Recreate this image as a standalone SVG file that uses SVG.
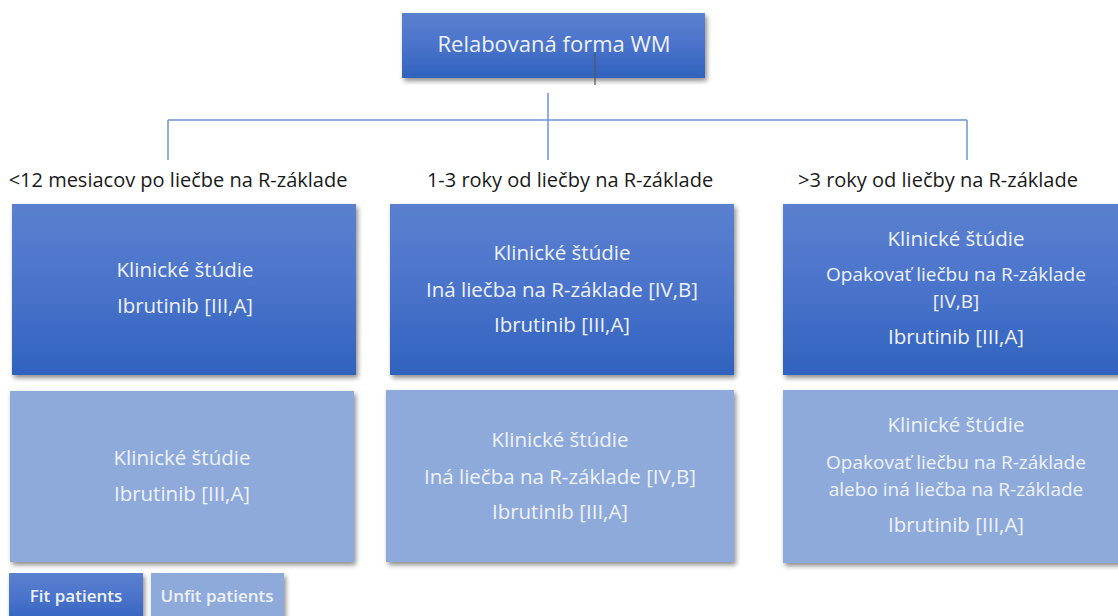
<svg xmlns="http://www.w3.org/2000/svg" width="1118" height="616" viewBox="0 0 1118 616">
  <defs>
    <linearGradient id="gDark" x1="0" y1="0" x2="0" y2="1">
      <stop offset="0" stop-color="#5b80cf"/>
      <stop offset="0.5" stop-color="#4a73cb"/>
      <stop offset="1" stop-color="#3062bd"/>
    </linearGradient>
    <filter id="shadow" x="-5%" y="-5%" width="112%" height="115%">
      <feGaussianBlur in="SourceAlpha" stdDeviation="2.5"/>
      <feOffset dx="2" dy="3" result="b"/>
      <feComponentTransfer><feFuncA type="linear" slope="0.45"/></feComponentTransfer>
      <feMerge><feMergeNode/><feMergeNode in="SourceGraphic"/></feMerge>
    </filter>
    <style>
      .dark { fill: url(#gDark); filter: url(#shadow); }
      .light { fill: #8eaadb; filter: url(#shadow); }
      .t { font-family: "Open Sans", "Liberation Sans", sans-serif; font-size: 20.5px; fill: #eef2fa; text-anchor: middle; }
      .w { font-size: 19px; }
      .lbl { font-family: "Open Sans", "Liberation Sans", sans-serif; font-size: 20px; fill: #1a1a1a; text-anchor: middle; }
      .leg { font-family: "Open Sans", "Liberation Sans", sans-serif; font-size: 17px; font-weight: 600; fill: #eef2fa; text-anchor: middle; }
      .conn { stroke: #6f93d6; stroke-width: 1.5; fill: none; }
    </style>
  </defs>
  <rect width="1118" height="616" fill="#ffffff"/>

  <!-- connectors -->
  <g id="connectors">
    <path class="conn" d="M548 93 V120 M168 120 H967 M168 120 V160 M548 120 V160 M967 120 V160"/>
  </g>

  <g id="root">
    <rect class="dark" x="402" y="13" width="303" height="65"/>
    <text class="t" x="554" y="52" style="font-size:22px">Relabovaná forma WM</text>
    <line x1="595" y1="53" x2="595" y2="85" stroke="#555" stroke-width="1.2"/>
  </g>

  <g id="labels">
    <text class="lbl" x="178" y="187">&lt;12 mesiacov po liečbe na R-základe</text>
    <text class="lbl" x="570" y="187">1-3 roky od liečby na R-základe</text>
    <text class="lbl" x="938" y="187">&gt;3 roky od liečby na R-základe</text>
  </g>

  <g id="fit-early">
    <rect class="dark" x="12" y="204" width="344" height="171"/>
    <text class="t" x="185" y="277">Klinické štúdie</text>
    <text class="t" x="185" y="313">Ibrutinib [III,A]</text>
  </g>
  <g id="fit-mid">
    <rect class="dark" x="390" y="204" width="344" height="171"/>
    <text class="t" x="562" y="260">Klinické štúdie</text>
    <text class="t" x="562" y="297">Iná liečba na R-základe [IV,B]</text>
    <text class="t" x="562" y="332">Ibrutinib [III,A]</text>
  </g>
  <g id="fit-late">
    <rect class="dark" x="783" y="204" width="345" height="171"/>
    <text class="t" x="956" y="246">Klinické štúdie</text>
    <text class="t w" x="956" y="281">Opakovať liečbu na R-základe</text>
    <text class="t w" x="956" y="308">[IV,B]</text>
    <text class="t" x="956" y="344">Ibrutinib [III,A]</text>
  </g>

  <g id="unfit-early">
    <rect class="light" x="10" y="391" width="344" height="171"/>
    <text class="t" x="182" y="465">Klinické štúdie</text>
    <text class="t" x="182" y="501">Ibrutinib [III,A]</text>
  </g>
  <g id="unfit-mid">
    <rect class="light" x="386" y="390" width="348" height="172"/>
    <text class="t" x="560" y="447">Klinické štúdie</text>
    <text class="t" x="560" y="484">Iná liečba na R-základe [IV,B]</text>
    <text class="t" x="560" y="519">Ibrutinib [III,A]</text>
  </g>
  <g id="unfit-late">
    <rect class="light" x="783" y="390" width="345" height="173"/>
    <text class="t" x="956" y="432">Klinické štúdie</text>
    <text class="t w" x="956" y="469">Opakovať liečbu na R-základe</text>
    <text class="t w" x="956" y="496">alebo iná liečba na R-základe</text>
    <text class="t" x="956" y="532">Ibrutinib [III,A]</text>
  </g>

  <g id="legend-fit">
    <rect class="dark" x="9" y="573" width="134" height="50"/>
    <text class="leg" x="76" y="602">Fit patients</text>
  </g>
  <g id="legend-unfit">
    <rect class="light" x="151" y="573" width="133" height="50"/>
    <text class="leg" x="217" y="602">Unfit patients</text>
  </g>
</svg>
